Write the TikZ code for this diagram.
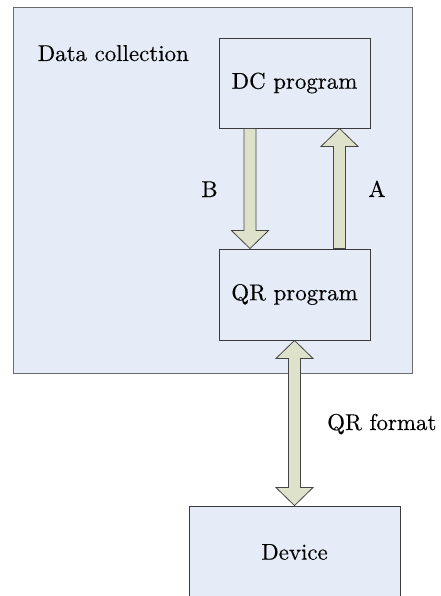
\documentclass[tikz,border=0pt]{standalone}
\usepackage{fontspec}
\newfontfamily\diagfont{lmroman10-regular.otf}[FakeBold=0.35]
\usetikzlibrary{calc}

\definecolor{panelfill}{HTML}{E6ECF7}
\definecolor{panelline}{HTML}{6A6A6A}
\definecolor{boxline}{HTML}{3A3A3A}
\definecolor{arrowfill}{HTML}{DEE2CB}
\definecolor{arrowline}{HTML}{454545}

% vertical block arrow from #1 to #2 (head at #2)
\newcommand\blockarrowv[2]{%
  \filldraw[blockarrow] let \p1=(#1), \p2=(#2), \n1={sign(\y2-\y1)} in
    ({\x1-6pt},\y1) -- ({\x1-6pt},{\y2-(\n1)*18pt}) -- ({\x1-18.5pt},{\y2-(\n1)*18pt})
    -- (\x1,\y2) -- ({\x1+18.5pt},{\y2-(\n1)*18pt}) -- ({\x1+6pt},{\y2-(\n1)*18pt})
    -- ({\x1+6pt},\y1) -- cycle;}

% vertical block arrow with heads at both ends, #1 above #2
\newcommand\blockarrowvv[2]{%
  \filldraw[blockarrow] let \p1=(#1), \p2=(#2) in
    (\x1,\y1) -- ({\x1+18.5pt},{\y1-18pt}) -- ({\x1+6pt},{\y1-18pt})
    -- ({\x1+6pt},{\y2+18pt}) -- ({\x1+18.5pt},{\y2+18pt}) -- (\x1,\y2)
    -- ({\x1-18.5pt},{\y2+18pt}) -- ({\x1-6pt},{\y2+18pt})
    -- ({\x1-6pt},{\y1-18pt}) -- ({\x1-18.5pt},{\y1-18pt}) -- cycle;}

\tikzset{
  txt/.style={font=\diagfont\fontsize{22.9}{28}\selectfont},
  panel/.style={draw=panelline, fill=panelfill, line width=0.9pt, inner sep=0pt},
  progbox/.style={txt, draw=boxline, fill=panelfill, line width=0.9pt, inner sep=0pt,
    minimum width=151pt},
  blockarrow/.style={fill=arrowfill, draw=arrowline, line width=0.8pt, line join=miter},
  lbl/.style={txt, inner sep=0pt}
}

\begin{document}
\begin{tikzpicture}[x=1pt, y=-1pt]
  \useasboundingbox (0,0) rectangle (440,596);
  \clip (0,0) rectangle (440,596);

  % outer data collection panel
  \node[panel, minimum width=399pt, minimum height=366pt] (outer) at (212.5,190) {};
  \node[lbl, anchor=base west] (dclabel) at (37.5,61) {Data collection};

  % program boxes
  \node[progbox, minimum height=90pt] (dc) at (294.5,83) {DC program};
  \node[progbox, minimum height=91pt] (qr) at (294.5,294.5) {QR program};

  % device, running off the bottom edge
  \node[progbox, minimum width=211pt, minimum height=92pt] (dev) at (294.5,552) {Device};

  % arrows between the programs
  \blockarrowv{[xshift=-44.5pt]dc.south}{[xshift=-44.5pt]qr.north}
  \blockarrowv{[xshift=45pt]qr.north}{[xshift=45pt]dc.south}
  \node[lbl, anchor=base] (lb) at (209.5,197) {B};
  \node[lbl, anchor=base] (la) at (377,197) {A};

  % exchange between QR program and device
  \blockarrowvv{qr.south}{dev.north}
  \node[lbl, anchor=base west] (lqr) at (327,430) {QR format};
\end{tikzpicture}
\end{document}
